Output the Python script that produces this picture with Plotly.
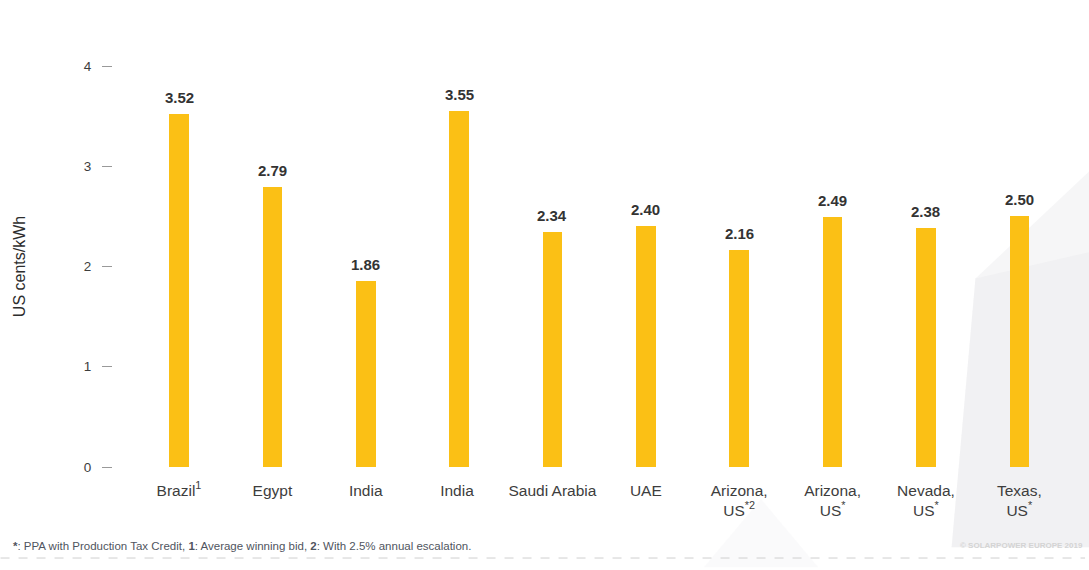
import plotly.graph_objects as go

categories = ["Brazil<sup>1</sup>", "Egypt", "India", "India ", "Saudi Arabia", "UAE",
              "Arizona,<br>US<sup>*2</sup>", "Arizona,<br>US<sup>*</sup>",
              "Nevada,<br>US<sup>*</sup>", "Texas,<br>US<sup>*</sup>"]
values = [3.52, 2.79, 1.86, 3.55, 2.34, 2.40, 2.16, 2.49, 2.38, 2.50]
y_ticks = [0, 1, 2, 3, 4]

xs = list(range(len(categories)))

fig = go.Figure()
fig.add_trace(go.Bar(
    x=xs, y=values,
    width=0.21,
    marker=dict(color="#FBC015", line=dict(width=0)),
    hoverinfo="x+y",
))

annotations = []
for x, v in zip(xs, values):
    annotations.append(dict(
        x=x, y=v, xref="x", yref="y", text=f"<b>{v:.2f}</b>", showarrow=False,
        yanchor="bottom", yshift=6,
        font=dict(family="Liberation Sans, Arial", size=15, color="#333333"),
    ))

shapes = [
    dict(type="path", xref="paper", yref="paper", layer="below",
         path="M 1.03 0.75 L 0.905 0.47 L 0.88 -0.2 L 1.05 -0.2 Z",
         fillcolor="rgba(238,239,241,0.55)", line=dict(width=0)),
    dict(type="path", xref="paper", yref="paper", layer="below",
         path="M 0.905 0.47 L 1.05 0.55 L 1.05 -0.2 L 0.88 -0.2 Z",
         fillcolor="rgba(232,233,236,0.35)", line=dict(width=0)),
    dict(type="path", xref="paper", yref="paper", layer="below",
         path="M 0.62 -0.25 L 0.68 -0.08 L 0.74 -0.25 Z",
         fillcolor="rgba(240,241,243,0.35)", line=dict(width=0)),
    dict(type="line", xref="paper", yref="paper", x0=-0.118, x1=1.02, y0=-0.227, y1=-0.227,
         line=dict(color="#cfcfcf", width=1, dash="dash")),
]

annotations += [
    dict(xref="paper", yref="paper", x=-0.107, y=-0.196, xanchor="left", yanchor="middle",
         text="<b>*</b>: PPA with Production Tax Credit, <b>1</b>: Average winning bid, <b>2</b>: With 2.5% annual escalation.",
         showarrow=False, font=dict(family="Liberation Sans Narrow, Liberation Sans", size=11.5, color="#505560")),
    dict(xref="paper", yref="paper", x=1.02, y=-0.196, xanchor="right", yanchor="middle",
         text="<b>© SOLARPOWER EUROPE 2019</b>", showarrow=False,
         font=dict(family="Liberation Sans", size=8, color="#d4d4d4")),
]

fig.update_layout(
    width=1089, height=570,
    margin=dict(l=113, r=23, t=66, b=103),
    paper_bgcolor="white", plot_bgcolor="rgba(0,0,0,0)",
    showlegend=False,
    bargap=0,
    font=dict(family="Liberation Sans, Arial", color="#444444"),
    xaxis=dict(
        range=[-0.707, 9.5],
        tickmode="array", tickvals=xs, ticktext=categories,
        showgrid=False, zeroline=False, showline=False, ticks="",
        ticklabelstandoff=12,
        tickfont=dict(size=15.5, color="#3d3d3d"),
    ),
    yaxis=dict(
        range=[0, 4], tickvals=y_ticks, ticktext=[str(t) for t in y_ticks],
        showgrid=False, zeroline=False, showline=False,
        ticks="outside", ticklen=10, tickwidth=1, tickcolor="#999999",
        ticklabelstandoff=8,
        tickfont=dict(size=13.5, color="#3d3d3d"),
        title=dict(text="US cents/kWh", font=dict(size=16, color="#2d2d2d"), standoff=54),
    ),
    shapes=shapes,
    annotations=annotations,
)

fig.write_html("out.html")
